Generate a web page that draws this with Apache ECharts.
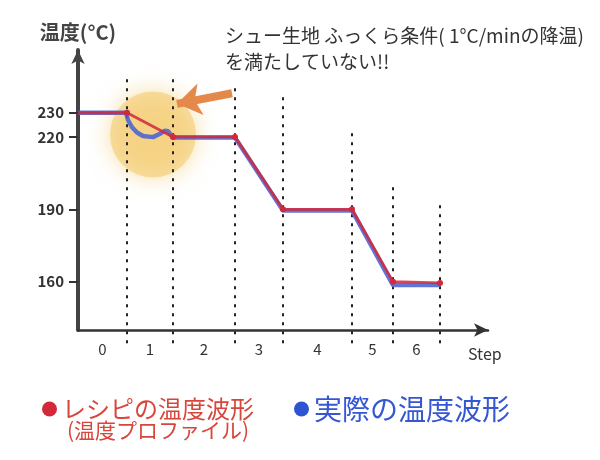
<!DOCTYPE html>
<html>
<head>
<meta charset="utf-8">
<script src="https://cdn.jsdelivr.net/npm/echarts@6/dist/echarts.min.js"></script>
<style>
  html, body { margin: 0; padding: 0; background: #fff; }
  #chart { width: 600px; height: 460px; }
</style>
</head>
<body>
<div id="chart"></div>
<script>
  // step edges along the time axis (same units as the x axis)
  var stepEdges = [0, 49, 95, 157, 205, 274, 315, 362]
  var stepLabels = ['0', '1', '2', '3', '4', '5', '6']
  // how high each dotted step divider reaches (temperature units)
  var dividerTops = [245.6, 245.6, 240.2, 236.5, 223.6, 201.2, 192.5]
  var dividerBottom = 134.5

  var yTicks = [160, 190, 220, 230]

  // recipe profile (red)
  var recipeX = [0, 49, 95, 157, 205, 274, 315, 362]
  var recipeY = [230, 230, 220, 220, 190, 190, 160, 159.5]

  // measured profile (blue)
  var actualX = [0, 48, 50, 54, 59, 65, 75, 82, 87, 90, 95, 157, 205, 274, 315, 362]
  var actualY = [230, 230, 227, 224, 221.8, 220.4, 219.9, 221.3, 222.6, 222.4, 219.7, 219.7, 189.5, 189.5, 158.6, 158.6]

  // annotation: glow around the problem spot, arrow pointing at it
  var glowAt = [75, 221]
  var arrowFrom = [154, 238.1]
  var arrowTo = [99, 233.7]

  var font = '"Noto Sans CJK JP", "Noto Sans", sans-serif'
  var red = '#d2283a'
  var blue = '#4f66d2'

  function pairs(xs, ys) {
    return xs.map((x, i) => [x, ys[i]])
  }

  var labelPos = stepLabels.map((_, i) => (stepEdges[i] + stepEdges[i + 1]) / 2)

  var dividerSeries = stepEdges.slice(1).map((x, i) => ({
    type: 'line',
    name: 'divider' + i,
    data: [[x, dividerBottom], [x, dividerTops[i]]],
    symbol: 'none',
    clip: false,
    silent: true,
    z: 1,
    lineStyle: { color: '#222', width: 2, type: [3, 6] },
  }))

  var chart = echarts.init(document.getElementById('chart'))

  chart.setOption({
    animation: false,
    textStyle: { fontFamily: font },
    grid: { left: 78, top: 50, width: 410, height: 280 },
    xAxis: {
      type: 'value',
      min: 0,
      max: 410,
      name: 'Step',
      nameLocation: 'end',
      nameGap: -20,
      nameTextStyle: { fontSize: 16, color: '#333', verticalAlign: 'top', padding: [16, 0, 0, 0] },
      splitLine: { show: false },
      axisTick: { show: false },
      axisLine: { lineStyle: { color: '#333', width: 2.5 }, symbol: ['none', 'arrow'], symbolSize: [10, 14] },
      axisLabel: {
        customValues: labelPos,
        margin: 12,
        fontSize: 15,
        color: '#333',
        formatter: v => stepLabels[labelPos.indexOf(v)] || '',
      },
    },
    yAxis: {
      type: 'value',
      min: 140,
      max: 256,
      name: '温度(°C)',
      nameLocation: 'end',
      nameGap: 8,
      nameTextStyle: { fontSize: 20, fontWeight: 'bold', color: '#444', align: 'center' },
      splitLine: { show: false },
      axisLine: { lineStyle: { color: '#444', width: 4 }, symbol: ['none', 'arrow'], symbolSize: [10, 14] },
      axisTick: { customValues: yTicks, length: 9, lineStyle: { color: '#333', width: 2 } },
      axisLabel: { customValues: yTicks, margin: 14, fontSize: 15, fontWeight: 'bold', color: '#333' },
    },
    legend: {
      left: 37,
      top: 390,
      icon: 'circle',
      itemWidth: 15,
      itemHeight: 15,
      itemGap: 40,
      data: [
        { name: 'レシピの温度波形', textStyle: { color: '#d8453a', fontSize: 24 } },
        { name: '実際の温度波形', textStyle: { color: '#3557d3', fontSize: 28 } },
      ],
    },
    graphic: [
      {
        type: 'text',
        left: 225,
        top: 23,
        style: {
          text: 'シュー生地 ふっくら条件( 1°C/minの降温)\nを満たしていない!!',
          font: '19px ' + font,
          lineHeight: 26,
          fill: '#333',
        },
      },
      {
        type: 'text',
        left: 67,
        top: 420,
        style: { text: '(温度プロファイル)', font: '21px ' + font, fill: '#d8453a' },
      },
    ],
    series: [
      {
        type: 'scatter',
        name: 'glow',
        data: [glowAt],
        symbolSize: 86,
        silent: true,
        z: 0,
        itemStyle: { color: 'rgba(244,202,105,0.7)', shadowBlur: 22, shadowColor: 'rgba(240,190,80,0.9)' },
      },
      ...dividerSeries,
      {
        type: 'lines',
        name: 'arrow',
        coordinateSystem: 'cartesian2d',
        silent: true,
        symbol: ['none', 'arrow'],
        symbolSize: 24,
        z: 3,
        lineStyle: { color: '#e5894a', width: 8, opacity: 1, curveness: 0 },
        data: [{ coords: [arrowFrom, arrowTo] }],
      },
      {
        type: 'line',
        name: '実際の温度波形',
        data: pairs(actualX, actualY),
        symbol: 'circle',
        symbolSize: 5,
        showSymbol: false,
        color: '#2d55d0',
        z: 4,
        lineStyle: { color: blue, width: 4.5, opacity: 0.9 },
      },
      {
        type: 'line',
        name: 'レシピの温度波形',
        data: pairs(recipeX, recipeY).map((p, i) => (i === 0 ? { value: p, symbol: 'none' } : p)),
        symbol: 'circle',
        symbolSize: 6,
        color: '#d9352e',
        z: 5,
        itemStyle: { color: red, borderWidth: 0 },
        lineStyle: { color: red, width: 2.8, opacity: 0.85 },
      },
    ],
  })
</script>
</body>
</html>
